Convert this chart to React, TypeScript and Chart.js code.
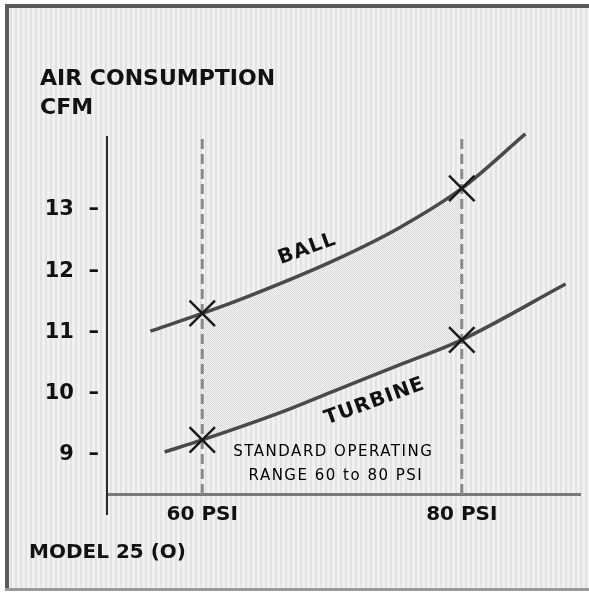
import { useEffect, useRef } from 'react';
import { Chart, registerables } from 'chart.js';

Chart.register(...registerables);

// ---- data ----
const xTicks = [60, 80];
const xTickLabels = ['60 PSI', '80 PSI'];
const yTicks = [9, 10, 11, 12, 13];
const ballPsi = [56, 60, 63.2, 70, 75.2, 80, 84.9];
const ballCfm = [11.02, 11.31, 11.56, 12.16, 12.71, 13.35, 14.24];
const turbinePsi = [57.1, 60, 66, 70, 75.2, 80, 88];
const turbineCfm = [9.05, 9.245, 9.69, 10.03, 10.47, 10.88, 11.79];
const rangePsi = [60, 80];
const xRange = [52.66, 89.11];
const yRange = [8.363, 14.19];
const titleLines = ['AIR CONSUMPTION', 'CFM'];
const modelLabel = 'MODEL 25 (O)';
const noteLines = ['STANDARD OPERATING', 'RANGE 60 to 80 PSI'];

const FONT = '"DejaVu Sans", "Liberation Sans", sans-serif';

function zip(xs: number[], ys: number[]) {
  return xs.map((x, i) => ({ x, y: ys[i] }));
}

function makeStripe() {
  const c = document.createElement('canvas');
  c.width = 5; c.height = 1;
  const g = c.getContext('2d')!;
  g.fillStyle = '#f1f1f1'; g.fillRect(0, 0, 5, 1);
  g.fillStyle = '#e2e2e2'; g.fillRect(0, 0, 2, 1);
  return c;
}
function makeChecker() {
  const c = document.createElement('canvas');
  c.width = 2; c.height = 2;
  const g = c.getContext('2d')!;
  g.fillStyle = '#f4f4f4'; g.fillRect(0, 0, 2, 2);
  g.fillStyle = '#d8d8d8'; g.fillRect(0, 0, 1, 1); g.fillRect(1, 1, 1, 1);
  return c;
}

export default function App() {
  const ref = useRef<HTMLCanvasElement>(null);
  useEffect(() => {
    const canvas = ref.current!;
    const stripeC = makeStripe();
    const checkerC = makeChecker();

    const markerPts = [
      ...zip(ballPsi, ballCfm).filter((p) => rangePsi.includes(p.x)),
      ...zip(turbinePsi, turbineCfm).filter((p) => rangePsi.includes(p.x)),
    ];

    const paper = {
      id: 'paper',
      beforeDraw(chart: any) {
        const { ctx, width, height } = chart;
        ctx.save();
        ctx.fillStyle = '#ffffff';
        ctx.fillRect(0, 0, width, height);
        ctx.fillStyle = ctx.createPattern(stripeC, 'repeat');
        ctx.fillRect(9, 8, width - 9, 580);
        ctx.fillStyle = '#5a5a5a';
        ctx.fillRect(5, 4, width - 5, 4);
        ctx.fillRect(5, 4, 4, 586);
        ctx.fillStyle = '#9a9a9a';
        ctx.fillRect(5, 588, width - 5, 3);
        ctx.restore();
      },
      beforeDatasetsDraw(chart: any) {
        const { ctx } = chart;
        const ball = chart.getDatasetMeta(1).dataset;
        const turb = chart.getDatasetMeta(2).dataset;
        if (!ball || !turb || !ball.path) return;
        const xs = chart.scales.x;
        const x1 = xs.getPixelForValue(rangePsi[0]);
        const x2 = xs.getPixelForValue(rangePsi[1]);
        ball.updateControlPoints && ball.updateControlPoints(chart.chartArea, 'x');
        turb.updateControlPoints && turb.updateControlPoints(chart.chartArea, 'x');
        ctx.save();
        ctx.beginPath();
        ctx.rect(x1, 0, x2 - x1, chart.height);
        ctx.clip();
        const bp = ball.points;
        ctx.beginPath();
        ball.path(ctx);
        ctx.lineTo(bp[bp.length - 1].x, chart.height);
        ctx.lineTo(bp[0].x, chart.height);
        ctx.closePath();
        ctx.clip();
        const tp = turb.points;
        ctx.beginPath();
        turb.path(ctx);
        ctx.lineTo(tp[tp.length - 1].x, 0);
        ctx.lineTo(tp[0].x, 0);
        ctx.closePath();
        ctx.fillStyle = ctx.createPattern(checkerC, 'repeat');
        ctx.fill();
        ctx.restore();
      },
      afterDraw(chart: any) {
        const { ctx, chartArea } = chart;
        const xs = chart.scales.x;
        const ys = chart.scales.y;
        ctx.save();
        ctx.strokeStyle = '#2a2a2a';
        ctx.lineWidth = 2;
        ctx.beginPath();
        const lx = Math.round(chartArea.left);
        ctx.moveTo(lx, chartArea.bottom);
        ctx.lineTo(lx, chartArea.bottom + 21);
        ctx.stroke();

        ctx.fillStyle = '#111';
        ctx.textBaseline = 'alphabetic';
        ctx.textAlign = 'left';
        ctx.font = `bold 22px ${FONT}`;
        ctx.fillText(titleLines[0], 40, 85);
        ctx.fillText(titleLines[1], 40, 114);
        ctx.font = `bold 20px ${FONT}`;
        ctx.fillText(modelLabel, 29, 558);

        const drawRot = (text: string, px: number, py: number, size: number, spacing: number) => {
          ctx.save();
          ctx.translate(xs.getPixelForValue(px), ys.getPixelForValue(py));
          ctx.rotate(-20 * Math.PI / 180);
          ctx.font = `bold ${size}px ${FONT}`;
          (ctx as any).letterSpacing = `${spacing}px`;
          ctx.textAlign = 'center';
          ctx.textBaseline = 'middle';
          ctx.fillText(text, 0, 0);
          ctx.restore();
        };
        drawRot('BALL', 68.1, 12.36, 20, 1);
        drawRot('TURBINE', 73.3, 9.87, 20, 1);

        ctx.fillStyle = '#000';
        ctx.font = `15px ${FONT}`;
        (ctx as any).letterSpacing = '1.5px';
        ctx.textAlign = 'center';
        ctx.textBaseline = 'middle';
        ctx.fillText(noteLines[0], xs.getPixelForValue(70.1), ys.getPixelForValue(9.05));
        ctx.fillText(noteLines[1], xs.getPixelForValue(70.3), ys.getPixelForValue(8.66));
        ctx.restore();
      },
    };

    const chart = new Chart(canvas, {
      type: 'line',
      data: {
        datasets: [
          {
            label: 'points',
            data: markerPts,
            showLine: false,
            pointStyle: 'crossRot',
            pointRadius: 18,
            pointBorderWidth: 2.5,
            pointBorderColor: '#1a1a1a',
            pointBackgroundColor: '#1a1a1a',
            clip: false,
          },
          {
            label: 'BALL',
            data: zip(ballPsi, ballCfm),
            borderColor: '#4a4a4a',
            borderWidth: 3.5,
            pointRadius: 0,
            cubicInterpolationMode: 'monotone',
            clip: false,
          },
          {
            label: 'TURBINE',
            data: zip(turbinePsi, turbineCfm),
            borderColor: '#4a4a4a',
            borderWidth: 3.5,
            pointRadius: 0,
            cubicInterpolationMode: 'monotone',
            clip: false,
          },
          ...rangePsi.map((p) => ({
            label: `range ${p}`,
            data: [{ x: p, y: yRange[0] }, { x: p, y: yRange[1] }],
            borderColor: '#8a8a8a',
            borderWidth: 3,
            borderDash: [10, 5],
            pointRadius: 0,
            clip: false,
          })),
        ] as any,
      },
      options: {
        responsive: false,
        animation: false,
        events: [],
        layout: { autoPadding: false, padding: { left: 0, top: 137, right: 9, bottom: 0 } },
        plugins: { legend: { display: false }, tooltip: { enabled: false }, title: { display: false } },
        scales: {
          x: {
            type: 'linear',
            min: xRange[0],
            max: xRange[1],
            afterBuildTicks: (s: any) => { s.ticks = xTicks.map((v) => ({ value: v })); },
            afterFit: (s: any) => {
              s.height = 98;
              s.paddingLeft = 0; s.paddingRight = 0; s.paddingTop = 0; s.paddingBottom = 0;
            },
            grid: { display: false, drawTicks: false },
            border: { display: true, color: '#7a7a7a', width: 3 },
            ticks: {
              autoSkip: false,
              maxRotation: 0,
              padding: 9,
              color: '#111',
              font: { family: FONT, size: 20, weight: 'bold' },
              callback: (v: any) => xTickLabels[xTicks.indexOf(Number(v))] ?? '',
            },
          },
          y: {
            type: 'linear',
            min: yRange[0],
            max: yRange[1],
            afterBuildTicks: (s: any) => { s.ticks = yTicks.map((v) => ({ value: v })); },
            afterFit: (s: any) => {
              s.width = 107;
              s.paddingLeft = 0; s.paddingRight = 0; s.paddingTop = 0; s.paddingBottom = 0;
            },
            grid: { display: false, drawTicks: false },
            border: { display: true, color: '#2a2a2a', width: 2 },
            ticks: {
              autoSkip: false,
              padding: 8,
              color: '#111',
              font: { family: FONT, size: 21, weight: 'bold' },
              callback: (v: any) => `${v}  \u2013`,
            },
          },
        },
      } as any,
      plugins: [paper],
    });
    return () => chart.destroy();
  }, []);
  return (
    <div style={{ position: 'fixed', left: 0, top: 0, width: 589, height: 592 }}>
      <canvas ref={ref} width={589} height={592} style={{ display: 'block', width: 589, height: 592 }} />
    </div>
  );
}
